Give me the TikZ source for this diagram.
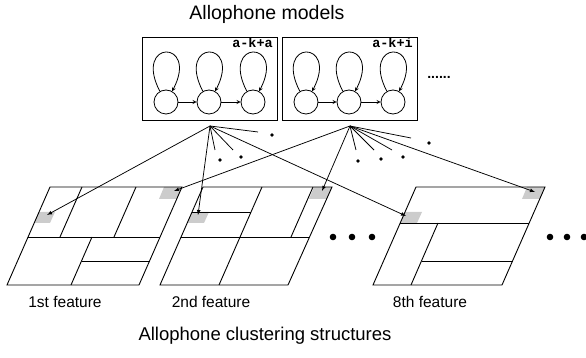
\documentclass[tikz,border=0pt]{standalone}
\usepackage{fontspec}
\setmainfont{Liberation Sans}
\setmonofont{Liberation Mono}
\definecolor{patch}{gray}{0.8}
\begin{document}
\begin{tikzpicture}[x=1pt,y=1pt]
  \tikzset{ st/.style={circle,draw,line width=0.8pt,minimum size=24pt,inner sep=0pt},
    box/.style={draw,line width=0.9pt,minimum width=135pt,minimum height=83pt,inner sep=0pt},
    tag/.style={anchor=east,inner sep=0pt,font=\ttfamily\bfseries\fontsize{13.5}{13.5}\selectfont},
    lbl/.style={inner sep=0pt,font=\fontsize{15.5}{15.5}\selectfont},
    ttl/.style={inner sep=0pt,font=\fontsize{19.5}{19.5}\selectfont},
    fb/.style={line width=0.9pt},
    fan/.style={line width=0.75pt},
    selfarc/.style={line width=0.8pt,-stealth},
  }
  \useasboundingbox (0,0) rectangle (586,358);

  \node[ttl] (title) at (267,344) {Allophone models};

  % the two HMM boxes
  \node[box] (m1) at (209.5,279.5) {};
  \node[box] (m2) at (350,279.5) {};
  \node[tag] (t1) at (273,315) {a-k+a};
  \node[tag] (t2) at (413,315) {a-k+i};

  \node[st] (a1) at (166,256) {};
  \node[st] (a2) at (209,256) {};
  \node[st] (a3) at (253,256) {};
  \node[st] (b1) at (306,256) {};
  \node[st] (b2) at (349,256) {};
  \node[st] (b3) at (393,256) {};

  \draw[selfarc] (a1) -- (a2);
  \draw[selfarc] (a2) -- (a3);
  \draw[selfarc] (b1) -- (b2);
  \draw[selfarc] (b2) -- (b3);
  \draw[selfarc] (a1.120) .. controls +(-27,52) and +(27,52) .. (a1.60);
  \draw[selfarc] (a2.120) .. controls +(-27,52) and +(27,52) .. (a2.60);
  \draw[selfarc] (a3.120) .. controls +(-27,52) and +(27,52) .. (a3.60);
  \draw[selfarc] (b1.120) .. controls +(-27,52) and +(27,52) .. (b1.60);
  \draw[selfarc] (b2.120) .. controls +(-27,52) and +(27,52) .. (b2.60);
  \draw[selfarc] (b3.120) .. controls +(-27,52) and +(27,52) .. (b3.60);

  \node[font=\bfseries\fontsize{14}{14}\selectfont] (more) at (439,281) {......};

  % shaded leaves
  \fill[patch] (34,135) -- (39,146) -- (55,146) -- (50,135) -- cycle;
  \fill[patch] (164,171) -- (182,171) -- (177,159) -- (159,159) -- cycle;
  \fill[patch] (187,135) -- (192,146) -- (209,146) -- (204,135) -- cycle;
  \fill[patch] (314,171) -- (332,171) -- (327,159) -- (309,159) -- cycle;
  \fill[patch] (400,135) -- (405,146) -- (422,146) -- (417,135) -- cycle;
  \fill[patch] (527,171) -- (545,171) -- (540,159) -- (522,159) -- cycle;

  % 1st feature
  \draw[fb] (7,73) -- (139,73) -- (182,171) -- (50,171) -- cycle;
  \draw[fb] (28,121) -- (160,121);
  \draw[fb] (82,171) -- (60,121);
  \draw[fb] (136,171) -- (114,121);
  \draw[fb] (92,121) -- (71,73);
  \draw[fb] (81.5,97) -- (149.5,97);
  % 2nd feature
  \draw[fb] (160,73) -- (288,73) -- (332,171) -- (203,171) -- cycle;
  \draw[fb] (181,121) -- (309,121);
  \draw[fb] (262,171) -- (219,73);
  \draw[fb] (192,146) -- (251,146);
  \draw[fb] (313,171) -- (291,121);
  % 8th feature
  \draw[fb] (373,73) -- (502,73) -- (545,171) -- (416,171) -- cycle;
  \draw[fb] (400,135) -- (529,135);
  \draw[fb] (438,135) -- (411,73);
  \draw[fb] (421.5,97) -- (512.5,97);

  \fill (333,121) circle (3.3);
  \fill (352,121) circle (3.3);
  \fill (372,121) circle (3.3);
  \fill (550,121) circle (3.3);
  \fill (567,121) circle (3.3);
  \fill (584,121) circle (3.3);

  % fan-out from each model
  \coordinate (h1) at (210,232);
  \coordinate (h2) at (350,232);
  \coordinate (p1a) at (47,143);
  \coordinate (p2a) at (198,143);
  \coordinate (p8a) at (406,142);
  \coordinate (p1b) at (174,167);
  \coordinate (p2b) at (322,167);
  \coordinate (p8b) at (535,166);

  \draw[fan,-latex] (h1) -- (p1a);
  \draw[fan,-latex] (h1) -- (p2a);
  \draw[fan,-latex] (h1) -- (p8a);
  \draw[fan,-latex] (h2) -- (p1b);
  \draw[fan,-latex] (h2) -- (p2b);
  \draw[fan,-latex] (h2) -- (p8b);

  \coordinate (s1) at (215,208);
  \coordinate (s2) at (233,208);
  \coordinate (s3) at (258,226);
  \coordinate (s4) at (356,208);
  \coordinate (s5) at (374,208);
  \coordinate (s6) at (392,208);
  \coordinate (s7) at (411,220);
  \draw[fan] (h1) -- (s1);
  \draw[fan] (h1) -- (s2);
  \draw[fan] (h1) -- (s3);
  \draw[fan] (h2) -- (s4);
  \draw[fan] (h2) -- (s5);
  \draw[fan] (h2) -- (s6);
  \draw[fan] (h2) -- (s7);

  \fill (220,198) circle (1.8);
  \fill (241,201) circle (1.8);
  \fill (272,223) circle (1.8);
  \fill (358,197) circle (1.8);
  \fill (381,199) circle (1.8);
  \fill (403,201) circle (1.8);
  \fill (429,215) circle (1.8);

  \node[lbl] (f1) at (65,56) {1st feature};
  \node[lbl] (f2) at (211,56) {2nd feature};
  \node[lbl] (f8) at (430,56) {8th feature};
  \node[inner sep=0pt,font=\fontsize{18.5}{18.5}\selectfont] (cl) at (265,22) {Allophone clustering structures};
\end{tikzpicture}
\end{document}
